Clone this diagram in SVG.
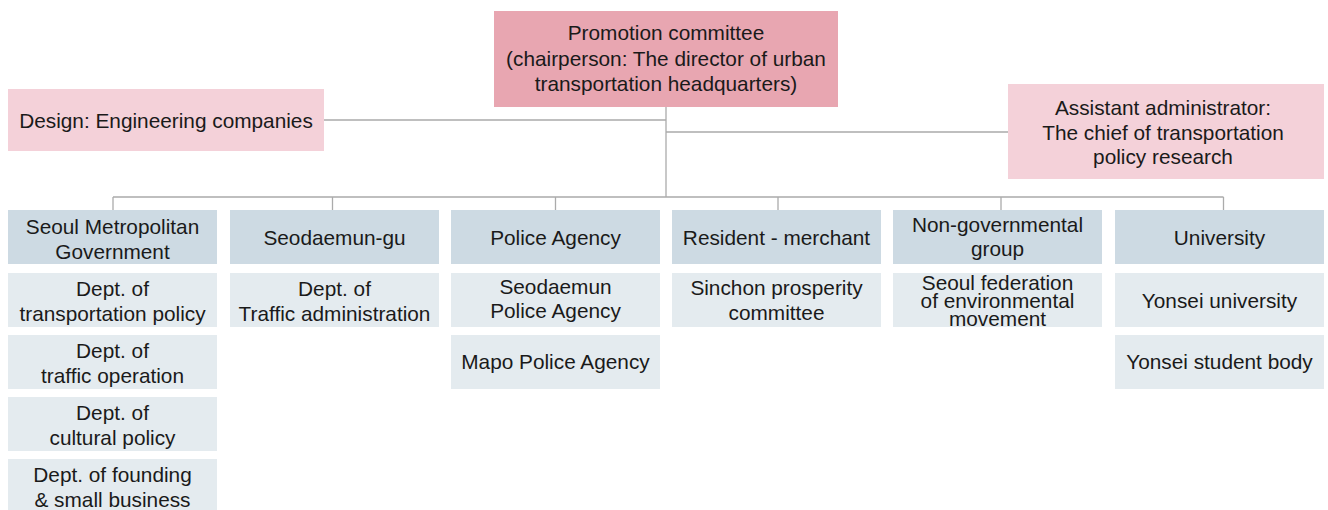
<svg xmlns="http://www.w3.org/2000/svg" width="1328" height="510" viewBox="0 0 1328 510">
<style>
text{font-family:"Liberation Sans",Arial,Helvetica,sans-serif;font-size:20.8px;fill:#1a1a1a;text-anchor:middle}
.top{fill:#e8a6b1}
.side{fill:#f4d1d9}
.hdr{fill:#cddae3}
.sub{fill:#e4ebef}
.ln{stroke:#ababab;stroke-width:1.3;fill:none}
</style>
<rect width="1328" height="510" fill="#ffffff"/>
<g id="connectors">
<path class="ln" d="M666 107V197M324 120H666M666 132H1008M113 197H1223.5M113 197V210M332.5 197V210M555.5 197V210M778 197V210M1001 197V210M1223.5 197V210"/>
</g>
<g id="promotion">
<rect class="top" x="494" y="11" width="344" height="96"/>
<text x="666" y="40">Promotion committee</text>
<text x="666" y="66">(chairperson: The director of urban</text>
<text x="666" y="91">transportation headquarters)</text>
</g>
<g id="design">
<rect class="side" x="8" y="89" width="316" height="62"/>
<text x="166" y="127.5">Design: Engineering companies</text>
</g>
<g id="assistant">
<rect class="side" x="1008" y="84" width="316" height="95"/>
<text x="1163" y="115">Assistant administrator:</text>
<text x="1163" y="140">The chief of transportation</text>
<text x="1163" y="164">policy research</text>
</g>
<g id="seoul">
<rect class="hdr" x="8" y="210" width="209" height="54"/>
<text x="112.5" y="234.3">Seoul Metropolitan</text>
<text x="112.5" y="259">Government</text>
</g>
<g id="seoul-1">
<rect class="sub" x="8" y="273" width="209" height="54"/>
<text x="112.5" y="296">Dept. of</text>
<text x="112.5" y="320.7">transportation policy</text>
</g>
<g id="seoul-2">
<rect class="sub" x="8" y="335" width="209" height="54"/>
<text x="112.5" y="358">Dept. of</text>
<text x="112.5" y="382.7">traffic operation</text>
</g>
<g id="seoul-3">
<rect class="sub" x="8" y="397" width="209" height="54"/>
<text x="112.5" y="420">Dept. of</text>
<text x="112.5" y="444.7">cultural policy</text>
</g>
<g id="seoul-4">
<rect class="sub" x="8" y="459" width="209" height="54"/>
<text x="112.5" y="482">Dept. of founding</text>
<text x="112.5" y="506.7">&amp; small business</text>
</g>
<g id="seodaemun">
<rect class="hdr" x="230" y="210" width="209" height="54"/>
<text x="334.5" y="244.5">Seodaemun-gu</text>
</g>
<g id="seodaemun-1">
<rect class="sub" x="230" y="273" width="209" height="54"/>
<text x="334.5" y="296">Dept. of</text>
<text x="334.5" y="321.2">Traffic administration</text>
</g>
<g id="police">
<rect class="hdr" x="451" y="210" width="209" height="54"/>
<text x="555.5" y="244.5">Police Agency</text>
</g>
<g id="police-1">
<rect class="sub" x="451" y="273" width="209" height="54"/>
<text x="555.5" y="294">Seodaemun</text>
<text x="555.5" y="318.3">Police Agency</text>
</g>
<g id="police-2">
<rect class="sub" x="451" y="335" width="209" height="54"/>
<text x="555.5" y="369">Mapo Police Agency</text>
</g>
<g id="resident">
<rect class="hdr" x="672" y="210" width="209" height="54"/>
<text x="776.5" y="244.5">Resident - merchant</text>
</g>
<g id="resident-1">
<rect class="sub" x="672" y="273" width="209" height="54"/>
<text x="776.5" y="295">Sinchon prosperity</text>
<text x="776.5" y="320">committee</text>
</g>
<g id="ngo">
<rect class="hdr" x="893" y="210" width="209" height="54"/>
<text x="997.5" y="231.7">Non-governmental</text>
<text x="997.5" y="256">group</text>
</g>
<g id="ngo-1">
<rect class="sub" x="893" y="273" width="209" height="54"/>
<text x="997.5" y="290">Seoul federation</text>
<text x="997.5" y="308">of environmental</text>
<text x="997.5" y="325.7">movement</text>
</g>
<g id="university">
<rect class="hdr" x="1115" y="210" width="209" height="54"/>
<text x="1219.5" y="244.5">University</text>
</g>
<g id="university-1">
<rect class="sub" x="1115" y="273" width="209" height="54"/>
<text x="1219.5" y="307.5">Yonsei university</text>
</g>
<g id="university-2">
<rect class="sub" x="1115" y="335" width="209" height="54"/>
<text x="1219.5" y="369">Yonsei student body</text>
</g>
</svg>
